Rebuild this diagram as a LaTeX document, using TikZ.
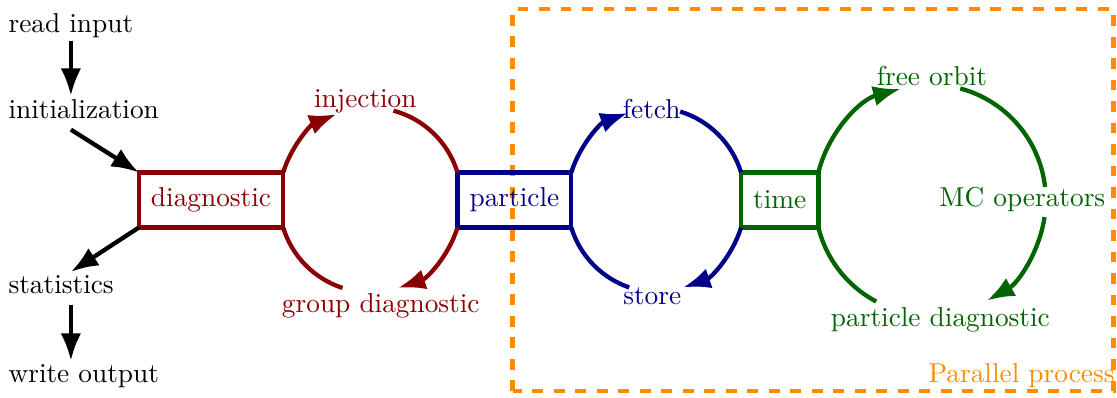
\documentclass[tikz,border=0pt]{standalone}
\usepackage{xcolor}
\usepackage{tikz}
\usetikzlibrary{positioning,calc,arrows.meta}

\definecolor{loopred}{HTML}{8B0000}
\definecolor{loopblue}{HTML}{00008B}
\definecolor{loopgreen}{HTML}{006400}
\definecolor{paraorange}{HTML}{FF8C00}

\begin{document}
\begin{tikzpicture}[node distance = 2.28cm, >=Latex, font=\fontsize{10.17}{12}\selectfont]
            \tikzstyle{stage} = [draw, ultra thick, minimum height=0.72cm, inner xsep=4.5pt, outer sep=0pt]
            \tikzstyle{txt} = [inner sep=1pt, anchor=base west]
            \tikzstyle{ring} = [ultra thick]
            \tikzstyle{flow} = [ring, ->]
            \useasboundingbox (0,0) rectangle (14.61,5.193);

            \draw [paraorange, line width=1.8pt, dash pattern=on 4pt off 4pt] (6.705,0.078) rectangle (14.56,5.075);
            \node [paraorange, anchor=base east, inner sep=0pt] (para) at (14.585,0.196) {Parallel process};

            \node [txt] (read) at (0.07,4.774) {read input};
            \node [txt] (init) at (0.07,3.649) {initialization};
            \node [txt] (stat) at (0.07,1.360) {statistics};
            \node [txt] (write) at (0.07,0.196) {write output};

            \node [stage, loopred] (diag) at (2.760,2.577) {diagnostic};
            \node [stage, loopblue, right = of diag] (part) {particle};
            \node [stage, loopgreen, right = 2.22cm of part] (time) {time};

            \coordinate (rc) at ($(diag.east)!0.5!(part.west)$);
            \coordinate (bc) at ($(part.east)!0.5!(time.west)$);
            \coordinate (gc) at ($(time.east)+(1.465,0)$);

            \node [loopred] (inj) at ($(rc)+(-0.065,1.295)$) {injection};
            \node [loopred] (grp) at ($(rc)+(0.137,-1.387)$) {group diagnostic};
            \node [loopblue] (fetch) at ($(bc)+(-0.059,1.194)$) {fetch};
            \node [loopblue] (store) at ($(bc)+(-0.052,-1.265)$) {store};
            \node [loopgreen] (orbit) at ($(gc)+(0.02,1.626)$) {free orbit};
            \node [loopgreen] (mc) at ($(gc)+(1.203,0)$) {MC operators};
            \node [loopgreen] (pdiag) at ($(gc)+(0.131,-1.57)$) {particle diagnostic};

            \draw [flow] (read.south) -- (read.south |- init.north);
            \draw [flow] ([yshift=-3pt]init.south -| read.south) -- (diag.north west);
            \draw [flow] (diag.south west) -- (read.south |- stat.north);
            \draw [flow] ([yshift=-3pt]stat.south -| read.south) -- (read.south |- write.north);

            \draw [flow, loopred] (diag.north east) arc [start angle=163, end angle=112, radius=1.2cm];
            \draw [ring, loopred] (part.north west) arc [start angle=17, end angle=75, radius=1.2cm];
            \draw [flow, loopred] (part.south west) arc [start angle=-17, end angle=-72, radius=1.2cm];
            \draw [ring, loopred] (diag.south east) arc [start angle=197, end angle=252, radius=1.2cm];

            \draw [flow, loopblue] (part.north east) arc [start angle=163, end angle=110, radius=1.2cm];
            \draw [ring, loopblue] (time.north west) arc [start angle=17, end angle=73, radius=1.2cm];
            \draw [flow, loopblue] (time.south west) arc [start angle=-17, end angle=-71, radius=1.2cm];
            \draw [ring, loopblue] (part.south east) arc [start angle=197, end angle=251, radius=1.2cm];

            \draw [flow, loopgreen] (time.north east) arc [start angle=166, end angle=105, radius=1.51cm];
            \draw [ring, loopgreen] ($(gc)+(75:1.51)$) arc [start angle=75, end angle=6.5, radius=1.51cm];
            \draw [flow, loopgreen] ($(gc)+(-8.5:1.51)$) arc [start angle=-8.5, end angle=-60.6, radius=1.51cm];
            \draw [ring, loopgreen] (time.south east) arc [start angle=194, end angle=242, radius=1.51cm];
        \end{tikzpicture}
\end{document}
